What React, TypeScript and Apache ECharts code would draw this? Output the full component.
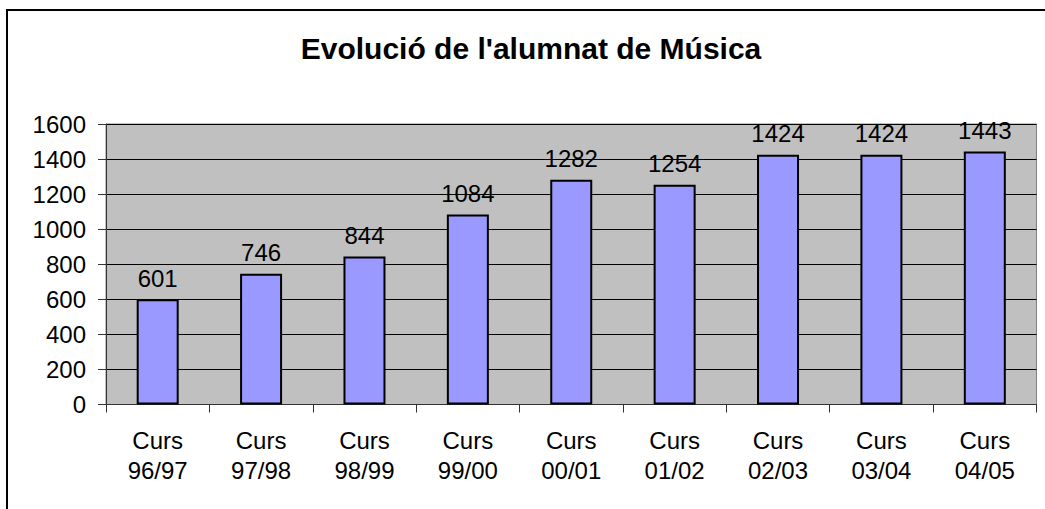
import React, { useEffect, useRef } from "react";
import * as echarts from "echarts";

const categories = [
  "Curs\n96/97",
  "Curs\n97/98",
  "Curs\n98/99",
  "Curs\n99/00",
  "Curs\n00/01",
  "Curs\n01/02",
  "Curs\n02/03",
  "Curs\n03/04",
  "Curs\n04/05",
];
const values = [601, 746, 844, 1084, 1282, 1254, 1424, 1424, 1443];
const titleText = "Evolució de l'alumnat de Música";
const yMin = 0;
const yMax = 1600;
const yInterval = 200;

const FONT = "'Liberation Sans', Arial, sans-serif";

export default function App() {
  const ref = useRef<HTMLDivElement>(null);
  useEffect(() => {
    if (!ref.current) return;
    const chart = echarts.init(ref.current, null, { renderer: "svg" });
    chart.setOption({
      animation: false,
      backgroundColor: "#ffffff",
      textStyle: { fontFamily: FONT },
      graphic: [
        {
          type: "rect",
          shape: { x: 7, y: 10, width: 1200, height: 700 },
          style: { fill: "none", stroke: "#000", lineWidth: 2 },
          z: 100,
        },
        {
          type: "text",
          x: 531,
          y: 48,
          style: {
            text: titleText,
            fontFamily: FONT,
            fontSize: 30,
            fontWeight: "bold",
            fill: "#000",
            textAlign: "center",
            textVerticalAlign: "middle",
          },
        },
      ],
      grid: {
        left: 106,
        top: 124,
        right: 8.5,
        bottom: 104.5,
        show: true,
        backgroundColor: "#C0C0C0",
        borderColor: "#808080",
        borderWidth: 1,
        containLabel: false,
      },
      xAxis: {
        type: "category",
        data: categories,
        axisLine: { show: true, lineStyle: { color: "#333", width: 1 } },
        axisTick: { show: true, length: 8, lineStyle: { color: "#333" } },
        axisLabel: {
          color: "#000",
          fontSize: 24,
          lineHeight: 30,
          margin: 21,
          fontFamily: FONT,
          interval: 0,
        },
      },
      yAxis: {
        type: "value",
        min: yMin,
        max: yMax,
        interval: yInterval,
        axisLine: { show: true, lineStyle: { color: "#333", width: 1 } },
        axisTick: { show: true, length: 8, lineStyle: { color: "#333" } },
        axisLabel: {
          color: "#000",
          fontSize: 24,
          margin: 20,
          fontFamily: FONT,
          formatter: (v: number) => String(v),
        },
        splitLine: { show: true, lineStyle: { color: "#000", width: 1 } },
      },
      series: [
        {
          type: "bar",
          data: values,
          barWidth: 42,
          itemStyle: { color: "#9999FF", borderColor: "#000", borderWidth: 2 },
          label: {
            show: true,
            position: "top",
            distance: 9,
            color: "#000",
            fontSize: 24,
            fontFamily: FONT,
          },
        },
      ],
    });
    return () => chart.dispose();
  }, []);
  return <div ref={ref} style={{ width: 1045, height: 509, position: "absolute", left: 0, top: 0 }} />;
}
